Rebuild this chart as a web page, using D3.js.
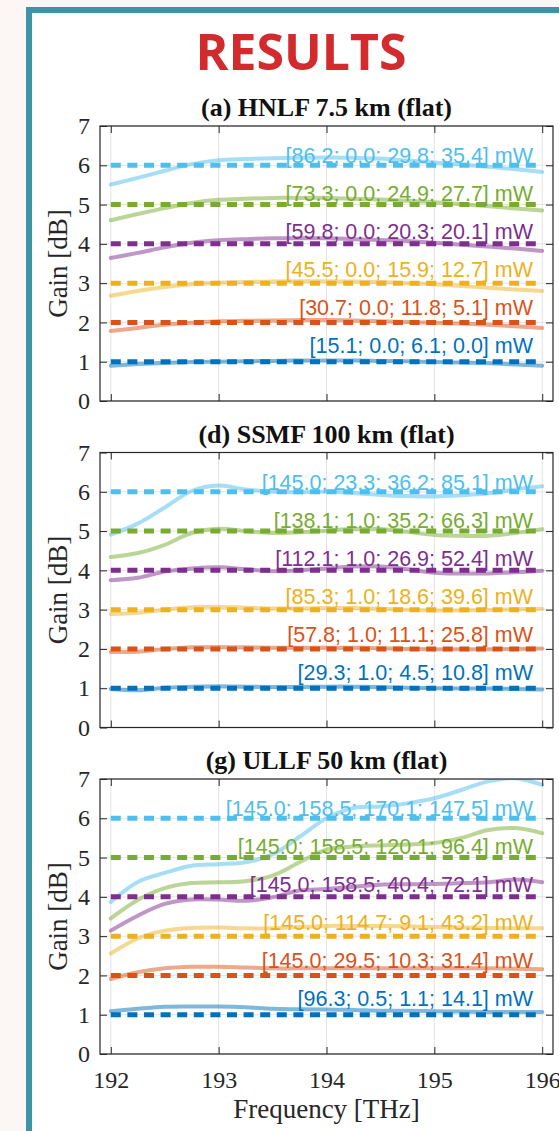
<!DOCTYPE html>
<html>
<head>
<meta charset="utf-8">
<script src="https://cdn.jsdelivr.net/npm/d3@7"></script>
<style>
  body { margin: 0; background: #fcf6f5; }
  svg { display: block; }
</style>
</head>
<body>
<svg id="chart" width="559" height="1131"></svg>
<script>
// frequency samples (THz) shared by every curve
const freq = [192, 192.25, 192.5, 192.75, 193, 193.25, 193.5, 193.75, 194,
              194.25, 194.5, 194.75, 195, 195.25, 195.5, 195.75, 196];
const targets = [1, 2, 3, 4, 5, 6];
const xTicks = [192, 193, 194, 195, 196];
const yTicks = [0, 1, 2, 3, 4, 5, 6, 7];

const titles = ["(a) HNLF 7.5 km (flat)", "(d) SSMF 100 km (flat)", "(g) ULLF 50 km (flat)"];

// measured gain, one row per target level (1 dB ... 6 dB)
const hnlfGain = [
  [0.90, 0.94, 0.97, 0.99, 1.00, 1.01, 1.02, 1.03, 1.03, 1.03, 1.02, 1.01, 0.99, 0.98, 0.96, 0.93, 0.90],
  [1.78, 1.86, 1.94, 1.99, 2.03, 2.04, 2.05, 2.06, 2.06, 2.05, 2.03, 2.01, 1.99, 1.97, 1.94, 1.90, 1.86],
  [2.68, 2.80, 2.90, 2.97, 3.01, 3.03, 3.04, 3.05, 3.05, 3.04, 3.03, 3.00, 2.97, 2.93, 2.88, 2.84, 2.80],
  [3.64, 3.77, 3.91, 4.03, 4.09, 4.12, 4.14, 4.14, 4.14, 4.12, 4.10, 4.07, 4.03, 3.98, 3.93, 3.88, 3.82],
  [4.60, 4.76, 4.91, 5.04, 5.12, 5.15, 5.17, 5.17, 5.17, 5.15, 5.13, 5.10, 5.06, 5.01, 4.96, 4.90, 4.85],
  [5.51, 5.68, 5.86, 6.03, 6.13, 6.16, 6.18, 6.19, 6.20, 6.19, 6.17, 6.12, 6.07, 6.02, 5.96, 5.90, 5.83]
];
const ssmfGain = [
  [0.98, 0.95, 1.01, 1.04, 1.05, 1.04, 1.03, 1.03, 1.04, 1.04, 1.03, 1.01, 1.00, 0.99, 0.99, 0.98, 0.97],
  [1.92, 1.93, 2.00, 2.04, 2.05, 2.04, 2.03, 2.03, 2.03, 2.03, 2.02, 2.00, 1.99, 1.99, 1.99, 2.00, 2.01],
  [2.89, 2.92, 3.00, 3.06, 3.07, 3.05, 3.03, 3.03, 3.04, 3.04, 3.02, 3.00, 2.98, 2.98, 2.99, 3.01, 3.02],
  [3.75, 3.81, 3.97, 4.05, 4.08, 4.03, 3.98, 4.00, 4.05, 4.10, 4.10, 4.03, 3.94, 3.92, 3.92, 3.95, 3.99],
  [4.34, 4.44, 4.65, 4.95, 5.06, 5.00, 4.95, 4.97, 5.01, 5.05, 5.05, 4.98, 4.90, 4.88, 4.88, 4.95, 5.05],
  [4.91, 5.19, 5.60, 6.02, 6.16, 6.06, 6.00, 5.99, 6.00, 5.97, 5.92, 5.89, 5.88, 5.91, 5.96, 6.06, 6.14]
];
const ullfGain = [
  [1.09, 1.15, 1.20, 1.21, 1.21, 1.19, 1.15, 1.14, 1.13, 1.12, 1.10, 1.10, 1.09, 1.08, 1.07, 1.07, 1.07],
  [1.91, 2.08, 2.18, 2.22, 2.22, 2.20, 2.18, 2.18, 2.18, 2.18, 2.18, 2.18, 2.18, 2.18, 2.18, 2.17, 2.16],
  [2.56, 2.94, 3.14, 3.21, 3.22, 3.20, 3.20, 3.23, 3.26, 3.26, 3.26, 3.25, 3.23, 3.22, 3.21, 3.20, 3.20],
  [3.14, 3.52, 3.82, 3.93, 3.93, 3.90, 3.99, 4.16, 4.20, 4.26, 4.31, 4.32, 4.33, 4.35, 4.37, 4.44, 4.37],
  [3.45, 3.92, 4.22, 4.35, 4.37, 4.40, 4.54, 4.88, 5.20, 5.28, 5.31, 5.33, 5.37, 5.50, 5.70, 5.75, 5.62],
  [3.87, 4.38, 4.61, 4.79, 4.83, 4.88, 5.08, 5.53, 6.00, 6.26, 6.30, 6.38, 6.51, 6.72, 6.94, 7.02, 6.85]
];

// pump powers written next to each target line
const hnlfPumps = ["[15.1; 0.0; 6.1; 0.0] mW", "[30.7; 0.0; 11.8; 5.1] mW", "[45.5; 0.0; 15.9; 12.7] mW",
                   "[59.8; 0.0; 20.3; 20.1] mW", "[73.3; 0.0; 24.9; 27.7] mW", "[86.2; 0.0; 29.8; 35.4] mW"];
const ssmfPumps = ["[29.3; 1.0; 4.5; 10.8] mW", "[57.8; 1.0; 11.1; 25.8] mW", "[85.3; 1.0; 18.6; 39.6] mW",
                   "[112.1; 1.0; 26.9; 52.4] mW", "[138.1; 1.0; 35.2; 66.3] mW", "[145.0; 23.3; 36.2; 85.1] mW"];
const ullfPumps = ["[96.3; 0.5; 1.1; 14.1] mW", "[145.0; 29.5; 10.3; 31.4] mW", "[145.0; 114.7; 9.1; 43.2] mW",
                   "[145.0; 158.5; 40.4; 72.1] mW", "[145.0; 158.5; 120.1; 96.4] mW", "[145.0; 158.5; 170.1; 147.5] mW"];

const colors = ["#0072BD", "#D95319", "#EDB120", "#7E2F8E", "#77AC30", "#4DBEEE"];

const panels = [
  { title: titles[0], gain: hnlfGain, pumps: hnlfPumps, top: 126 },
  { title: titles[1], gain: ssmfGain, pumps: ssmfPumps, top: 452.5 },
  { title: titles[2], gain: ullfGain, pumps: ullfPumps, top: 779 }
];

const serif = "'Liberation Serif', 'Times New Roman', serif";
const sans = "'Liberation Sans', Arial, sans-serif";

const svg = d3.select("#chart");

// white card with teal frame
svg.append("rect")
  .attr("x", 29).attr("y", 10)
  .attr("width", 600).attr("height", 1200)
  .attr("fill", "#fff")
  .attr("stroke", "#3e93a9")
  .attr("stroke-width", 6);

svg.append("text")
  .attr("x", 301).attr("y", 70)
  .attr("text-anchor", "middle")
  .style("font-family", "'Open Sans', sans-serif")
  .style("font-weight", 700)
  .style("font-size", "50px")
  .style("fill", "#d32a2e")
  .text("RESULTS");

const left = 100, right = 553, plotH = 275;
const x = d3.scaleLinear().domain([191.9, 196.1]).range([left, right]);

panels.forEach((p, i) => {
  const y = d3.scaleLinear().domain([0, 7]).range([p.top + plotH, p.top]);
  const g = svg.append("g");

  g.append("text")
    .attr("x", (left + right) / 2).attr("y", p.top - 10)
    .attr("text-anchor", "middle")
    .style("font-family", serif)
    .style("font-weight", 700)
    .style("font-size", "26px")
    .style("fill", "#111")
    .text(p.title);

  // grid
  g.selectAll("line.vgrid").data(xTicks).join("line")
    .attr("class", "vgrid")
    .attr("x1", d => x(d)).attr("x2", d => x(d))
    .attr("y1", p.top).attr("y2", p.top + plotH)
    .attr("stroke", "#e3e3e3").attr("stroke-width", 1);
  g.selectAll("line.hgrid").data(yTicks).join("line")
    .attr("class", "hgrid")
    .attr("x1", left).attr("x2", right)
    .attr("y1", d => y(d)).attr("y2", d => y(d))
    .attr("stroke", "#e3e3e3").attr("stroke-width", 1);

  const clipId = "clip" + i;
  svg.append("clipPath").attr("id", clipId)
    .append("rect")
    .attr("x", left).attr("y", p.top)
    .attr("width", right - left).attr("height", plotH);

  const line = d3.line()
    .x((d, j) => x(freq[j]))
    .y(d => y(d))
    .curve(d3.curveCatmullRom.alpha(0.5));

  // measured gain (light)
  g.append("g").attr("clip-path", `url(#${clipId})`)
    .selectAll("path").data(p.gain).join("path")
    .attr("d", d => line(d))
    .attr("fill", "none")
    .attr("stroke", (d, j) => colors[j])
    .attr("stroke-opacity", 0.5)
    .attr("stroke-width", 4)
    .attr("stroke-linecap", "round");

  // target gain (dashed)
  g.selectAll("line.target").data(targets).join("line")
    .attr("class", "target")
    .attr("x1", x(192)).attr("x2", x(196))
    .attr("y1", d => y(d)).attr("y2", d => y(d))
    .attr("stroke", (d, j) => colors[j])
    .attr("stroke-width", 5)
    .attr("stroke-dasharray", "10,6.6");

  // pump labels
  g.selectAll("text.pump").data(p.pumps).join("text")
    .attr("class", "pump")
    .attr("x", 533)
    .attr("y", (d, j) => y(0.968 * targets[j] + 0.25))
    .attr("text-anchor", "end")
    .style("font-family", sans)
    .style("font-size", "21.5px")
    .style("fill", (d, j) => colors[j])
    .text(d => d);

  // axes with inward ticks
  const axL = g.append("g").attr("transform", `translate(${left},0)`)
    .call(d3.axisLeft(y).tickValues(yTicks).tickSize(-7).tickPadding(10).tickFormat(d3.format("d")));
  const axR = g.append("g").attr("transform", `translate(${right},0)`)
    .call(d3.axisRight(y).tickValues(yTicks).tickSize(-7).tickFormat(""));
  const axT = g.append("g").attr("transform", `translate(0,${p.top})`)
    .call(d3.axisTop(x).tickValues(xTicks).tickSize(-7).tickFormat(""));
  const axB = g.append("g").attr("transform", `translate(0,${p.top + plotH})`)
    .call(d3.axisBottom(x).tickValues(xTicks).tickSize(-7).tickPadding(17)
      .tickFormat(i === 2 ? d3.format("d") : ""));

  [axL, axR, axT, axB].forEach(a => {
    a.select(".domain").remove();
    a.selectAll(".tick line").attr("stroke", "#262626");
    a.selectAll("text")
      .style("font-family", serif)
      .style("font-size", "24px")
      .style("fill", "#262626");
  });

  g.append("rect")
    .attr("x", left).attr("y", p.top)
    .attr("width", right - left).attr("height", plotH)
    .attr("fill", "none")
    .attr("stroke", "#262626")
    .attr("stroke-width", 1.2);

  g.append("text")
    .attr("transform", `translate(67,${p.top + plotH / 2}) rotate(-90)`)
    .attr("text-anchor", "middle")
    .style("font-family", serif)
    .style("font-size", "27px")
    .style("fill", "#262626")
    .text("Gain [dB]");
});

svg.append("text")
  .attr("x", (left + right) / 2).attr("y", 1118)
  .attr("text-anchor", "middle")
  .style("font-family", serif)
  .style("font-size", "27px")
  .style("fill", "#262626")
  .text("Frequency [THz]");
</script>
</body>
</html>
